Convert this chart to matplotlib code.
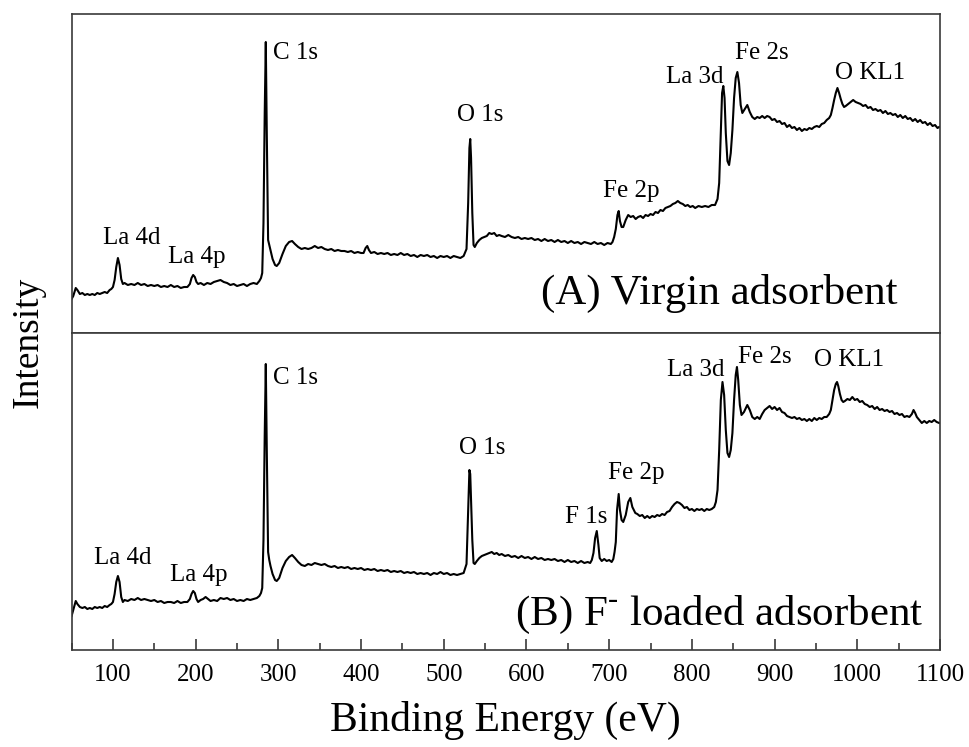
import matplotlib.pyplot as plt
from matplotlib.ticker import MultipleLocator
import numpy as np

plt.rcParams['font.family'] = ['Liberation Serif', 'DejaVu Serif']
plt.rcParams['mathtext.fontset'] = 'custom'
plt.rcParams['mathtext.rm'] = 'Liberation Serif'

# survey spectrum of the virgin adsorbent: (binding energy eV, intensity a.u.)
spec_a = [
    (50, 34), (52, 37), (55, 45), (57, 43), (60, 39), (63, 40), (66, 38), (69, 39), (72, 38), (75, 39),
    (78, 38), (81, 40), (84, 39), (87, 40), (90, 41), (93, 40), (96, 43), (98, 44), (100, 46),
    (102, 53), (104, 66), (106, 75), (108, 68), (110, 54), (112, 49),
    (114, 50), (118, 48), (122, 49), (126, 48), (130, 50), (134, 48), (138, 49), (142, 47), (146, 48), (150, 47),
    (154, 48), (158, 46), (162, 47), (166, 46), (170, 48), (174, 46), (178, 47), (182, 45), (186, 46), (190, 46),
    (193, 49), (195, 55), (197, 58), (199, 56), (201, 51), (203, 49),
    (206, 50), (210, 48), (214, 50), (218, 49), (222, 51), (226, 52), (230, 53), (234, 51), (238, 50), (242, 48),
    (246, 49), (250, 47), (254, 48), (258, 49), (262, 47), (266, 49), (270, 50), (274, 49), (277, 52), (279, 55),
    (280.5, 60), (282, 110), (283.5, 220), (284.8, 291), (286, 200), (287.6, 93), (289, 88), (290.5, 83), (293, 74),
    (296, 68), (298, 67), (301, 70), (305, 79), (309, 87), (313, 91), (316.6, 92), (320, 89), (324, 86), (328, 84),
    (332, 85), (336, 84), (340, 85), (344, 87), (348, 85), (352, 86), (356, 84), (360, 83), (364, 84), (368, 82),
    (372, 83), (376, 82), (380, 82), (384, 81), (388, 82), (392, 80), (396, 81), (400, 80), (403, 80), (405.5, 85),
    (407.5, 87), (409.5, 83), (412, 80),
    (416, 81), (420, 79), (424, 80), (428, 79), (432, 80), (436, 78), (440, 79), (444, 78), (448, 80), (452, 78),
    (456, 79), (460, 77), (464, 78), (468, 76), (472, 78), (476, 77), (480, 78), (484, 76), (488, 77), (492, 75),
    (496, 77), (500, 76), (504, 77), (508, 75), (512, 77), (516, 76), (520, 75), (524, 77),
    (527.5, 84), (529.5, 130), (531, 185), (532, 194), (533, 175), (534.5, 120), (536, 88), (537.5, 86), (540, 90),
    (543, 93), (546, 95), (549, 96), (552, 97), (555, 100), (558, 99), (561, 100), (564, 97), (567, 98),
    (570, 97), (574, 96), (578, 98), (582, 96), (586, 95), (590, 96), (594, 94), (598, 95), (602, 94), (606, 95),
    (610, 93), (614, 94), (618, 92), (622, 94), (626, 92), (630, 93), (634, 91), (638, 93), (642, 91), (646, 92),
    (650, 90), (654, 92), (658, 90), (662, 91), (666, 89), (670, 91), (674, 90), (678, 89), (682, 91), (686, 89),
    (690, 90), (694, 88), (698, 90), (702, 89), (704, 91),
    (706, 96), (708, 104), (710, 118), (711.5, 122), (713, 112), (715, 106), (717, 106), (720, 113), (723, 118),
    (726, 116), (729, 117), (732, 114), (735, 116), (738, 117), (741, 115), (744, 118), (747, 117), (750, 119),
    (753, 118), (756, 121), (759, 120), (762, 123), (765, 122), (768, 125), (771, 126), (774, 127), (777, 129),
    (780, 130), (783, 132), (786, 130), (789, 129), (792, 127), (795, 128), (798, 126), (801, 127), (804, 125),
    (808, 127), (812, 126), (816, 127), (820, 126), (824, 128), (828, 128),
    (831, 134), (833, 150), (835, 200), (836.5, 240), (838, 247), (839.5, 235), (841, 200), (843, 172), (845, 168),
    (847, 180), (849, 203), (851, 235), (853, 255), (855, 261), (857, 250), (859, 228), (861, 220), (864, 224),
    (867, 228), (870, 221), (873, 216),
    (876, 214), (879, 216), (882, 215), (885, 217), (888, 215), (891, 217), (894, 216), (897, 213), (900, 214),
    (903, 211), (906, 212), (909, 209), (912, 210), (915, 206), (918, 208), (921, 205), (924, 206), (927, 203),
    (930, 205), (933, 202), (936, 204), (939, 203), (942, 205), (945, 204), (948, 206), (951, 207), (954, 206),
    (957, 209), (960, 210), (963, 213), (966, 215),
    (968, 218), (970, 225), (972, 233), (974, 240), (976, 245), (978, 240), (980, 234), (982, 229), (984, 226),
    (986, 227), (989, 229), (992, 231), (995, 233), (998, 231),
    (1001, 230), (1004, 229), (1007, 227), (1010, 228), (1013, 225), (1016, 226), (1019, 223), (1022, 224),
    (1025, 222), (1028, 223), (1031, 220), (1034, 222), (1037, 219), (1040, 220), (1043, 218), (1046, 219),
    (1049, 216), (1052, 218), (1055, 215), (1058, 217), (1061, 214), (1064, 215), (1067, 212), (1070, 214),
    (1073, 211), (1076, 213), (1079, 210), (1082, 211), (1085, 208), (1088, 210), (1091, 207), (1094, 208),
    (1097, 205), (1099, 206),
]

# survey spectrum after fluoride loading
spec_b = [
    (50, 34), (52, 40), (55, 49), (57, 46), (60, 43), (63, 42), (66, 43), (69, 41), (72, 42), (75, 41),
    (78, 43), (81, 42), (84, 43), (87, 42), (90, 44), (93, 43), (96, 45), (98, 46), (100, 48),
    (102, 56), (104, 68), (106, 74), (108, 68), (110, 53), (112, 48),
    (114, 50), (118, 49), (122, 51), (126, 50), (130, 52), (134, 50), (138, 51), (142, 50), (146, 49), (150, 50),
    (154, 48), (158, 49), (162, 47), (166, 48), (170, 48), (174, 47), (178, 49), (182, 47), (186, 48), (190, 48),
    (193, 51), (195, 56), (197, 59), (199, 57), (201, 51), (203, 48),
    (206, 50), (209, 51), (212, 53), (215, 51), (218, 49), (222, 50), (226, 49), (230, 52), (234, 51), (238, 52),
    (242, 50), (246, 51), (250, 49), (254, 50), (258, 49), (262, 51), (266, 50), (270, 51), (274, 52), (277, 54),
    (279, 57), (280.5, 62), (282, 110), (283.5, 215), (284.8, 286), (286, 200), (287.6, 98), (289, 90),
    (290.5, 84), (293, 76), (296, 70), (298, 69), (301, 72), (305, 82), (309, 89), (313, 93), (316.6, 95),
    (320, 92), (324, 88), (328, 85),
    (332, 84), (336, 86), (340, 85), (344, 87), (348, 86), (352, 85), (356, 86), (360, 84), (364, 83), (368, 84),
    (372, 82), (376, 83), (380, 82), (384, 83), (388, 81), (392, 82), (396, 81), (400, 82), (404, 80), (408, 81),
    (412, 80), (416, 81), (420, 79), (424, 80), (428, 79), (432, 80), (436, 78), (440, 79), (444, 78), (448, 79),
    (452, 77), (456, 78), (460, 77), (464, 78), (468, 76), (472, 77), (476, 76), (480, 77), (484, 75), (488, 77),
    (492, 76), (496, 78), (500, 76), (504, 77), (508, 75), (512, 76), (516, 75), (520, 76), (524, 77),
    (527.5, 86), (529.5, 140), (531, 180), (532, 176), (533, 150), (534.5, 110), (536, 87), (537.5, 86), (540, 89),
    (543, 92), (546, 94), (549, 95), (552, 96), (555, 97), (558, 98), (561, 96), (564, 97), (567, 95),
    (570, 96), (574, 94), (578, 95), (582, 93), (586, 94), (590, 92), (594, 94), (598, 92), (602, 93), (606, 91),
    (610, 93), (614, 91), (618, 92), (622, 90), (626, 91), (630, 90), (634, 91), (638, 89), (642, 90), (646, 88),
    (650, 90), (654, 88), (658, 89), (662, 87), (666, 89), (670, 87), (674, 88), (677, 87),
    (679, 90), (681, 97), (683, 112), (685, 119), (687, 105), (688.5, 92), (691, 89), (694, 91), (697, 89),
    (700, 90), (703, 88), (705, 91),
    (706.5, 98), (708, 108), (709.5, 140), (711.5, 156), (713, 140), (715, 130), (717, 128), (720, 135), (723, 148),
    (725.6, 152), (728, 143), (731.6, 137), (734, 136), (737, 134), (740, 135), (743, 132), (746, 134), (749, 132),
    (752, 134), (755, 133), (758, 135), (761, 134), (764, 136), (767, 135), (770, 138), (773, 139), (776, 143),
    (779, 146), (782, 148), (785, 147), (788, 145), (791, 142), (794, 143), (797, 140), (800, 141), (803, 139),
    (806, 141), (809, 140), (812, 141), (815, 139), (818, 141), (821, 140), (824, 141), (827, 143),
    (829, 148), (831, 160), (833, 200), (835, 250), (837, 268), (839, 255), (841, 220), (843, 197), (845, 193),
    (847, 200), (849, 217), (851, 250), (853, 275), (854.5, 283), (856, 270), (858, 245), (860, 235), (863, 238),
    (867, 245), (870, 240), (873, 233), (876, 231), (879, 233), (882, 231), (885, 236), (888, 240), (891, 242),
    (894, 244), (897, 241), (900, 243), (903, 240), (906, 242), (909, 238), (912, 237), (915, 234), (918, 233),
    (921, 232), (924, 233), (927, 231), (930, 232), (933, 230), (936, 231), (939, 229), (942, 231), (945, 229),
    (948, 232), (951, 230), (954, 232), (957, 231), (960, 233), (963, 233), (966, 236),
    (968, 240), (970, 250), (972, 260), (974, 266), (975.5, 268), (977, 264), (979, 256), (981, 250), (983, 248),
    (985, 249), (988, 251), (991, 250), (994, 253), (997, 250), (1000, 251),
    (1003, 248), (1006, 249), (1009, 246), (1012, 245), (1015, 243), (1018, 244), (1021, 241), (1024, 243),
    (1027, 240), (1030, 241), (1033, 239), (1036, 240), (1039, 238), (1042, 239), (1045, 236), (1048, 237),
    (1051, 235), (1054, 236), (1057, 233), (1060, 234), (1063, 233), (1066, 236), (1068, 240), (1070, 237),
    (1072, 233), (1075, 230), (1078, 227), (1081, 229), (1084, 227), (1087, 229), (1090, 228), (1093, 230),
    (1096, 228), (1099, 227),
]

# peak labels: (text, energy, intensity, horizontal alignment)
labels_a = [('La 4d', 123, 95, 'center'), ('La 4p', 201.5, 76, 'center'), ('C 1s', 293, 280, 'left'),
            ('O 1s', 544.6, 218, 'center'), ('Fe 2p', 726.8, 142, 'center'), ('La 3d', 803, 256, 'center'),
            ('Fe 2s', 884, 280, 'center'), ('O KL1', 1015.4, 260, 'center')]
labels_b = [('La 4d', 112, 92, 'center'), ('La 4p', 204, 75, 'center'), ('C 1s', 293, 272, 'left'),
            ('O 1s', 547, 202, 'center'), ('F 1s', 672.4, 133, 'center'), ('Fe 2p', 733, 177, 'center'),
            ('La 3d', 805, 280, 'center'), ('Fe 2s', 888.6, 293, 'center'), ('O KL1', 990, 290, 'center')]

W, H = 969, 747
fig = plt.figure(figsize=(W / 100, H / 100), dpi=100)
left, right = 71.6 / W, 940 / W
ax_a = fig.add_axes([left, 1 - 333 / H, right - left, 319 / H])
ax_b = fig.add_axes([left, 1 - 650 / H, right - left, 317 / H])

panels = [(ax_a, spec_a, labels_a, 319, '(A) Virgin adsorbent', 40),
          (ax_b, spec_b, labels_b, 317, r'(B) F$^{\text{-}}$ loaded adsorbent', 35)]

for ax, spec, labs, top, name, name_y in panels:
    e, i = np.array(spec).T
    ax.plot(e, i, color='black', lw=1.5)
    ax.set_xlim(50, 1100)
    ax.set_ylim(0, top)
    ax.set_yticks([])
    for s in ax.spines.values():
        s.set_color('#3a3a3a')
        s.set_linewidth(1.2)
    for txt, x, y, ha in labs:
        ax.text(x, y, txt, fontsize=18, ha=ha, va='center')
    ax.text(833, name_y, name, fontsize=31, ha='center', va='center')

ax_a.set_xticks([])
ax_b.xaxis.set_major_locator(MultipleLocator(100))
ax_b.xaxis.set_minor_locator(MultipleLocator(50))
ax_b.tick_params(axis='x', which='major', direction='in', length=8, width=1.2,
                 color='#3a3a3a', labelsize=18, pad=10)
ax_b.tick_params(axis='x', which='minor', direction='in', length=5, width=1.2, color='#3a3a3a')
ax_b.set_xlabel('Binding Energy (eV)', fontsize=30, labelpad=11)

fig.text(28 / W, 1 - 342 / H, 'Intensity', fontsize=27, rotation=90, ha='center', va='center')

fig.savefig('out.png', dpi=100)
